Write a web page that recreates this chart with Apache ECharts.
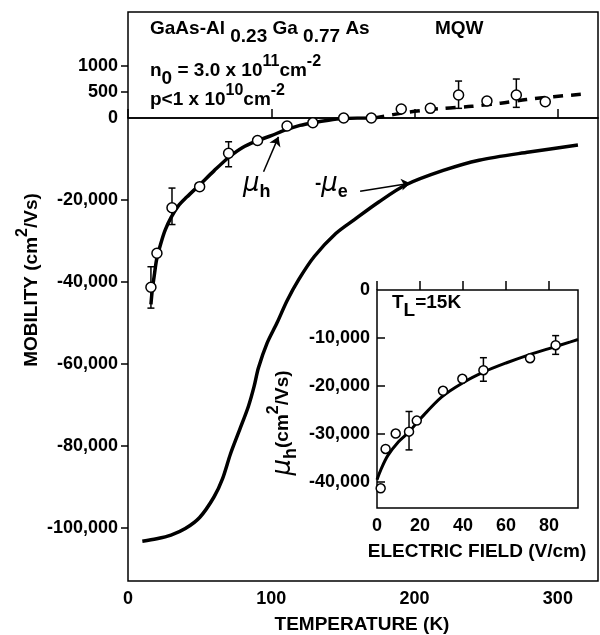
<!DOCTYPE html>
<html>
<head>
<meta charset="utf-8">
<script src="https://cdn.jsdelivr.net/npm/echarts@6/dist/echarts.min.js"></script>
<style>
html, body { margin: 0; padding: 0; background: #fff; }
#chart { width: 600px; height: 635px; }
</style>
</head>
<body>
<div id="chart"></div>
<script>
// hole mobility, solid fit (K, cm2/Vs)
const holeFitT = [16, 17, 18.5, 20, 23, 26, 30, 35, 41, 50, 60, 70, 80, 90, 100, 110, 120, 130, 140, 150, 160, 172];
const holeFitMu = [-45500, -41800, -38000, -34500, -30500, -27300, -24300, -21500, -19300, -16300, -12900, -9700, -7200, -5600, -4300, -2900, -1800, -1100, -550, -150, 0, 0];
// dashed continuation above zero (expanded scale)
const holeHighT = [172, 195, 220, 240, 260, 278, 297, 316];
const holeHighMu = [0, 110, 186, 225, 285, 355, 410, 455];
// measured points
const holeT = [16, 20.2, 30.7, 50, 70.2, 90.4, 111, 129, 150.5, 169.8];
const holeMu = [-41300, -33000, -21900, -16750, -8600, -5500, -1950, -1150, 0, 0];
const holeErrT = [16, 30.7, 70.2];
const holeErrLo = [-46400, -26000, -11900];
const holeErrHi = [-36300, -17100, -5800];
const highT = [190.7, 211, 230.7, 250.5, 271, 291.2];
const highMu = [173, 186, 442, 327, 442, 313];
const highErrT = [230.7, 271];
const highErrLo = [186, 205];
const highErrHi = [711, 750];
// electron mobility (plotted as -mu_e)
const elecT = [10, 20, 30, 40, 50, 60, 66, 71.5, 78, 84, 88, 91, 97, 104, 111, 119, 130, 145, 158, 175, 194, 220, 245, 280, 314];
const elecMu = [-103300, -102700, -101800, -100200, -97500, -92500, -88000, -82000, -76000, -70400, -65500, -61000, -55000, -50000, -44600, -39500, -33800, -28200, -24800, -20500, -16300, -12800, -10300, -8300, -6600];
// inset: field dependence at 15 K
const fieldFitE = [0, 2, 5, 10, 15, 20, 30, 40, 50, 60, 70, 80, 90, 93.5];
const fieldFitMu = [-39500, -37200, -34500, -31600, -29500, -26900, -22300, -19300, -17000, -15200, -13600, -12200, -10800, -10300];
const fieldE = [1.7, 4, 8.7, 14.9, 18.5, 30.7, 39.7, 49.5, 71.2, 83.1];
const fieldMu = [-41300, -33100, -29900, -29500, -27200, -21000, -18500, -16700, -14200, -11500];
const fieldErrE = [14.9, 49.5, 83.1];
const fieldErrLo = [-33300, -19000, -13400];
const fieldErrHi = [-25300, -14100, -9500];

const lowTicks = [-100000, -80000, -60000, -40000, -20000];
const highTicks = [500, 1000];
const insetTicks = [-10000, -20000, -30000, -40000];

const FONT = '"Liberation Sans", Arial, sans-serif';
const zip = (a, b) => a.map((v, i) => [v, b[i]]);
const zip3 = (a, b, c) => a.map((v, i) => [v, b[i], c[i]]);
function comma(v) {
  const s = String(Math.abs(v)).replace(/\B(?=(\d{3})+(?!\d))/g, ',');
  return (v < 0 ? '-' : '') + s;
}

function errBar(params, api) {
  const hi = api.coord([api.value(0), api.value(2)]);
  const lo = api.coord([api.value(0), api.value(1)]);
  const w = 3.5;
  const st = { stroke: '#000', lineWidth: 1.5 };
  return {
    type: 'group',
    children: [
      { type: 'line', shape: { x1: hi[0], y1: hi[1], x2: lo[0], y2: lo[1] }, style: st },
      { type: 'line', shape: { x1: hi[0] - w, y1: hi[1], x2: hi[0] + w, y2: hi[1] }, style: st },
      { type: 'line', shape: { x1: lo[0] - w, y1: lo[1], x2: lo[0] + w, y2: lo[1] }, style: st }
    ]
  };
}

const labelStyle = { color: '#000', fontFamily: FONT, fontWeight: 'bold', fontSize: 18 };
const R = {
  m: { fontFamily: FONT, fontWeight: 'bold', fontSize: 19, lineHeight: 34, verticalAlign: 'middle', fill: '#000', color: '#000' },
  s: { fontFamily: FONT, fontWeight: 'bold', fontSize: 19, lineHeight: 18, verticalAlign: 'bottom', fill: '#000', color: '#000' },
  p: { fontFamily: FONT, fontWeight: 'bold', fontSize: 16, lineHeight: 18, verticalAlign: 'top', fill: '#000', color: '#000' },
  mu: { fontFamily: '"DejaVu Sans", sans-serif', fontStyle: 'italic', fontSize: 26, lineHeight: 34, verticalAlign: 'middle', fill: '#000', color: '#000' },
  sb: { fontFamily: FONT, fontWeight: 'bold', fontSize: 18, lineHeight: 18, verticalAlign: 'bottom', fill: '#000', color: '#000' }
};
function txt(x, y, text, align, rot) {
  return {
    type: 'text', x: x, y: y, rotation: rot || 0, z: 100,
    style: { text: text, rich: R, fill: '#000', textAlign: align || 'left', textVerticalAlign: 'middle', align: align || 'left', verticalAlign: 'middle' }
  };
}

const gridBox = { show: true, borderColor: '#000', borderWidth: 1.5, backgroundColor: 'transparent' };
const scatterStyle = { color: '#fff', borderColor: '#000', borderWidth: 1.5, opacity: 1 };

const option = {
  animation: false,
  grid: [
    Object.assign({ left: 128, top: 12, width: 470, height: 106 }, gridBox),
    Object.assign({ left: 128, top: 118, width: 470, height: 463 }, gridBox),
    Object.assign({ left: 377, top: 290, width: 201, height: 218 }, gridBox, { backgroundColor: '#fff' })
  ],
  xAxis: [
    { gridIndex: 0, type: 'value', min: 0, max: 328, axisLine: { show: false }, axisTick: { show: false }, axisLabel: { show: false }, splitLine: { show: false } },
    { gridIndex: 1, type: 'value', min: 0, max: 328, interval: 100,
      axisLine: { show: false },
      axisTick: { show: true, inside: true, length: 9, lineStyle: { color: '#000', width: 1.5 } },
      axisLabel: Object.assign({ margin: 9, showMaxLabel: false }, labelStyle),
      splitLine: { show: false } },
    { gridIndex: 2, type: 'value', min: 0, max: 93.5, interval: 20,
      axisLine: { show: false },
      axisTick: { show: true, inside: true, length: 9, lineStyle: { color: '#000', width: 1.5 } },
      axisLabel: Object.assign({ margin: 9, showMaxLabel: false }, labelStyle),
      splitLine: { show: false } }
  ],
  yAxis: [
    { gridIndex: 0, type: 'value', min: 0, max: 2040,
      axisLine: { show: false },
      axisTick: { show: true, length: 7, customValues: highTicks, lineStyle: { color: '#000', width: 1.5 } },
      axisLabel: Object.assign({ margin: 10, customValues: [0].concat(highTicks), formatter: v => String(v) }, labelStyle),
      splitLine: { show: false } },
    { gridIndex: 1, type: 'value', min: -113000, max: 0,
      axisLine: { show: false },
      axisTick: { show: true, length: 7, customValues: lowTicks, lineStyle: { color: '#000', width: 1.5 } },
      axisLabel: Object.assign({ margin: 10, customValues: lowTicks, formatter: comma }, labelStyle),
      splitLine: { show: false } },
    { gridIndex: 2, type: 'value', min: -45400, max: 0,
      axisLine: { show: false },
      axisTick: { show: true, inside: true, length: 8, customValues: insetTicks, lineStyle: { color: '#000', width: 1.5 } },
      axisLabel: Object.assign({ margin: 7, customValues: [0].concat(insetTicks), formatter: comma }, labelStyle),
      splitLine: { show: false } }
  ],
  series: [
    { type: 'line', xAxisIndex: 1, yAxisIndex: 1, data: zip(elecT, elecMu), smooth: 0.3, symbol: 'none',
      lineStyle: { color: '#000', width: 3.5 },
      markLine: { silent: true, symbol: ['none', 'arrow'], symbolSize: 9, label: { show: false },
        lineStyle: { color: '#000', width: 1.5, type: 'solid', curveness: -0.25 },
        data: [[{ coord: [162, -17900] }, { coord: [197, -15900] }]] } },
    { type: 'line', xAxisIndex: 1, yAxisIndex: 1, data: zip(holeFitT, holeFitMu), smooth: 0.3, symbol: 'none',
      lineStyle: { color: '#000', width: 3.5 },
      markLine: { silent: true, symbol: ['none', 'arrow'], symbolSize: 9, label: { show: false },
        lineStyle: { color: '#000', width: 1.5, type: 'solid', curveness: 0.25 },
        data: [[{ coord: [94.6, -13100] }, { coord: [105, -4600] }]] } },
    { type: 'line', xAxisIndex: 0, yAxisIndex: 0, data: zip(holeHighT, holeHighMu), smooth: 0.3, symbol: 'none',
      lineStyle: { color: '#000', width: 3.5, type: [10, 8] } },
    { type: 'custom', xAxisIndex: 1, yAxisIndex: 1, renderItem: errBar, data: zip3(holeErrT, holeErrLo, holeErrHi), encode: { x: 0, y: [1, 2] }, z: 3 },
    { type: 'custom', xAxisIndex: 0, yAxisIndex: 0, renderItem: errBar, data: zip3(highErrT, highErrLo, highErrHi), encode: { x: 0, y: [1, 2] }, z: 3 },
    { type: 'scatter', xAxisIndex: 1, yAxisIndex: 1, data: zip(holeT, holeMu), symbol: 'circle', symbolSize: 10, itemStyle: scatterStyle, z: 5 },
    { type: 'scatter', xAxisIndex: 0, yAxisIndex: 0, data: zip(highT, highMu), symbol: 'circle', symbolSize: 10, itemStyle: scatterStyle, z: 5 },
    { type: 'line', xAxisIndex: 2, yAxisIndex: 2, data: zip(fieldFitE, fieldFitMu), smooth: 0.3, symbol: 'none',
      lineStyle: { color: '#000', width: 3 } },
    { type: 'custom', xAxisIndex: 2, yAxisIndex: 2, renderItem: errBar, data: zip3(fieldErrE, fieldErrLo, fieldErrHi), encode: { x: 0, y: [1, 2] }, z: 3 },
    { type: 'scatter', xAxisIndex: 2, yAxisIndex: 2, data: zip(fieldE, fieldMu), symbol: 'circle', symbolSize: 9, itemStyle: scatterStyle, z: 5 }
  ],
  graphic: [
    txt(150, 29, '{m|GaAs-Al }{s|0.23 }{m|Ga }{s|0.77 }{m|As}'),
    txt(435, 29, '{m|MQW}'),
    txt(150, 71, '{m|n}{s|0}{m| = 3.0 x 10}{p|11}{m|cm}{p|-2}'),
    txt(150, 100, '{m|p<1 x 10}{p|10}{m|cm}{p|-2}'),
    txt(243, 184, '{mu|μ}{sb|h}'),
    txt(315, 184, '{m|-}{mu|μ}{sb|e}'),
    txt(392, 303, '{m|T}{s|L}{m|=15K}'),
    txt(362, 625, '{m|TEMPERATURE (K)}', 'center'),
    txt(477, 552, '{m|ELECTRIC FIELD (V/cm)}', 'center'),
    txt(32, 280, '{m|MOBILITY (cm}{p|2}{m|/Vs)}', 'center', Math.PI / 2),
    txt(283, 423, '{mu|μ}{sb|h}{m|(cm}{p|2}{m|/Vs)}', 'center', Math.PI / 2)
  ]
};

const chart = echarts.init(document.getElementById('chart'));
chart.setOption(option);
</script>
</body>
</html>
